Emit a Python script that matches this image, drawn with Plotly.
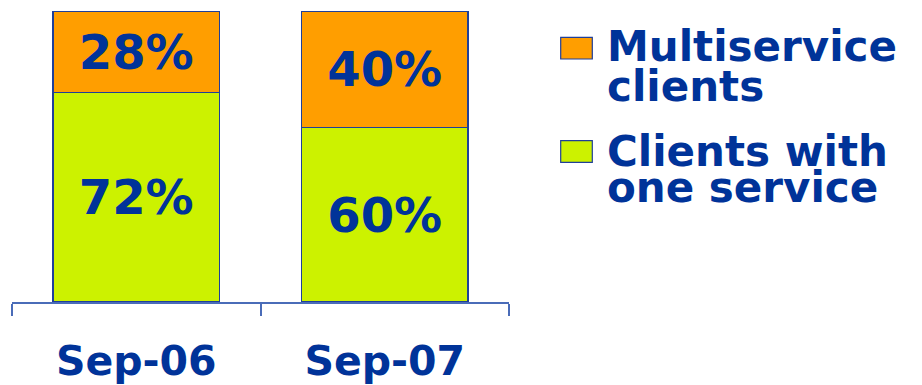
import plotly.graph_objects as go

categories = ["Sep-06", "Sep-07"]
one_service = [72, 60]
multiservice = [28, 40]
series_names = ["Clients with one service", "Multiservice clients"]
legend_lines = [["Multiservice", "clients"], ["Clients with", "one service"]]

W, H = 922, 385
L, R, T, B = 12, 413, 11, 83
PW, PH = W - L - R, H - T - B

BLUE = "#003399"
EDGE = "#1f3f99"
AXIS = "#4a6cb8"
ORANGE = "#FF9E00"
GREEN = "#CCF200"
FONT = "DejaVu Sans"

def px_x(x):
    return (x - L) / PW

def px_y(y):
    return (H - B - y) / PH

fig = go.Figure()
for vals, name, color in [(one_service, series_names[0], GREEN), (multiservice, series_names[1], ORANGE)]:
    fig.add_trace(go.Bar(
        x=categories, y=vals, name=name,
        marker=dict(color=color, line=dict(color=EDGE, width=1.5)),
        width=0.67,
        text=[f"{v}%" for v in vals],
        textposition="inside", insidetextanchor="middle",
        textfont=dict(family=FONT, size=48, color=BLUE, weight="bold"),
        constraintext="none",
        showlegend=False,
    ))

fig.update_layout(
    barmode="stack",
    width=W, height=H,
    margin=dict(l=L, r=R, t=T, b=B, pad=0, autoexpand=False),
    paper_bgcolor="white", plot_bgcolor="white",
    showlegend=False,
)
fig.update_xaxes(
    automargin=False,
    showline=True, linecolor=AXIS, linewidth=1.5,
    ticks="outside", tickson="boundaries", ticklen=12, tickcolor=AXIS, tickwidth=1.5,
    tickfont=dict(family=FONT, size=41, color=BLUE, weight="bold"),
    ticklabelstandoff=22,
    showgrid=False, zeroline=False,
)
fig.update_yaxes(range=[0, 100], visible=False, showgrid=False, zeroline=False, automargin=False)

# legend swatches and text
swatches = [(37.3, 59.0, ORANGE), (140.7, 162.3, GREEN)]
line_centers = [[46, 86.5], [151, 187.5]]
for (y0, y1, color), lines, centers in zip(swatches, legend_lines, line_centers):
    fig.add_shape(type="rect", xref="paper", yref="paper",
                  x0=px_x(560.7), x1=px_x(592.3), y0=px_y(y1), y1=px_y(y0),
                  fillcolor=color, line=dict(color=EDGE, width=1.2))
    for txt, cy in zip(lines, centers):
        fig.add_annotation(xref="paper", yref="paper", x=px_x(605), y=px_y(cy),
                           xanchor="left", yanchor="middle", showarrow=False,
                           text=txt, font=dict(family=FONT, size=42, color=BLUE, weight="bold"))

fig.write_html("out.html", config={"displayModeBar": False},
               post_script="document.body.style.margin='0px';")
